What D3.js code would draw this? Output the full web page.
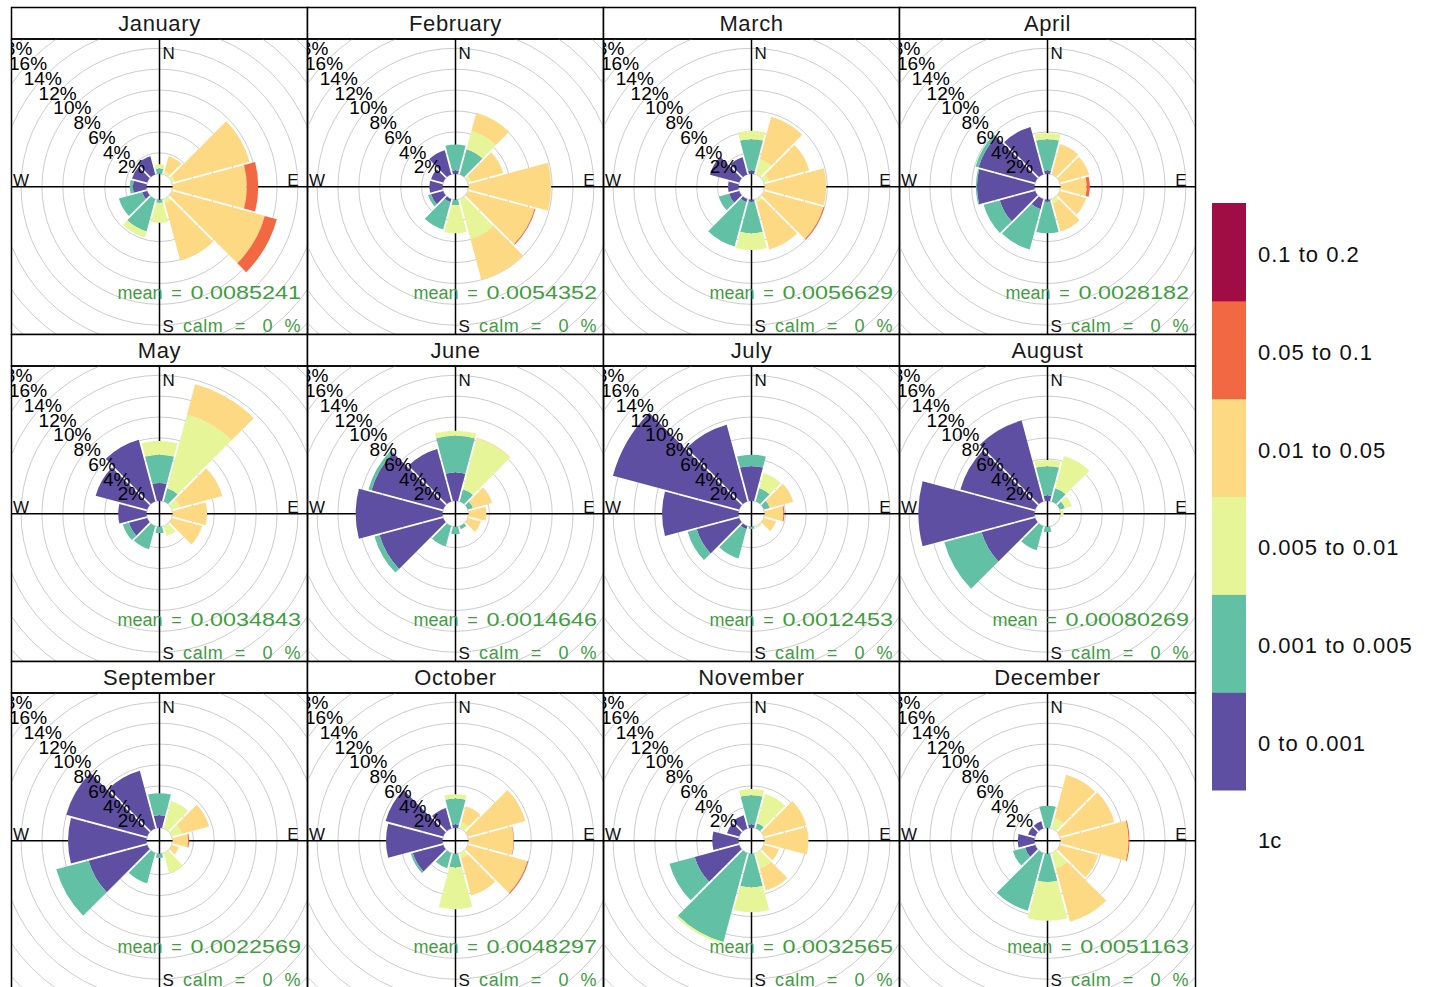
<!DOCTYPE html>
<html>
<head>
<meta charset="utf-8">
<script src="https://cdn.jsdelivr.net/npm/d3@7"></script>
<style>
  body { margin: 0; background: #fff; }
  text { font-family: "Liberation Sans", Arial, sans-serif; }
</style>
</head>
<body>
<div id="chart"></div>
<script>
// wind directions (degrees from north) and concentration intervals
const directions = [0, 30, 60, 90, 120, 150, 180, 210, 240, 270, 300, 330];
const intervals = ["0 to 0.001", "0.001 to 0.005", "0.005 to 0.01", "0.01 to 0.05", "0.05 to 0.1", "0.1 to 0.2"];
const colours = ["#5E4FA2", "#62C0A4", "#E6F598", "#FDD983", "#F26842", "#A00D44"];

const months = ["January", "February", "March", "April", "May", "June",
  "July", "August", "September", "October", "November", "December"];
const means = ["0.0085241", "0.0054352", "0.0056629", "0.0028182", "0.0034843", "0.0014646",
  "0.0012453", "0.00080269", "0.0022569", "0.0048297", "0.0032565", "0.0051163"];
const calms = [0, 0, 0, 0, 0, 0, 0, 0, 0, 0, 0, 0];

// frequency (%) in each interval, lowest first, one row per direction
const january = [
  [0, 0.5, 0.4, 0, 0, 0], [0, 0, 0.3, 1.5, 0, 0], [0, 0, 0.3, 7.4, 0, 0], [0, 0, 0, 7.1, 1.1, 0],
  [0, 0, 0, 9.2, 1.2, 0], [0, 0, 0.4, 5.7, 0, 0], [0, 0.3, 1.9, 0, 0, 0], [0, 3.2, 0.6, 0, 0, 0],
  [0.5, 2.3, 0, 0, 0, 0], [1.3, 0.3, 0, 0, 0, 0], [1.5, 0, 0, 0, 0, 0], [1.8, 0, 0, 0, 0, 0]];
const february = [
  [0.3, 2.5, 0, 0, 0, 0], [0, 2.5, 1.8, 1.8, 0, 0], [0, 0, 0.3, 3.2, 0, 0], [0, 0, 0, 7.9, 0, 0],
  [0, 0, 0, 6.6, 0.1, 0], [0, 0, 4.0, 4.0, 0, 0], [0, 0.5, 2.7, 0, 0, 0], [0.3, 2.7, 0, 0, 0, 0],
  [1.2, 0.3, 0, 0, 0, 0], [1.25, 0, 0, 0, 0, 0], [1.2, 0, 0, 0, 0, 0], [2.4, 0, 0, 0, 0, 0]];
const march = [
  [0.3, 3.0, 0.8, 0, 0, 0], [0, 0, 1.5, 4.2, 0, 0], [0, 0, 0.5, 4.0, 0, 0], [0, 0, 0, 5.9, 0, 0],
  [0, 0, 0, 5.9, 0.1, 0], [0, 0, 0.3, 4.7, 0, 0], [0.2, 3.0, 1.6, 0, 0, 0], [0.3, 4.4, 0, 0, 0, 0],
  [1.0, 1.0, 0, 0, 0, 0], [1.0, 0, 0, 0, 0, 0], [2.9, 0, 0, 0, 0, 0], [1.7, 0, 0, 0, 0, 0]];
const april = [
  [0.3, 3.0, 0.6, 0, 0, 0], [0, 0, 0, 3.0, 0, 0], [0, 0, 0, 2.9, 0, 0], [0, 0, 0, 2.5, 0.3, 0],
  [0, 0, 0, 2.6, 0, 0], [0, 0, 0.4, 2.8, 0, 0], [0.2, 3.0, 0, 0, 0, 0], [1.0, 4.0, 0, 0, 0, 0],
  [3.5, 1.6, 0, 0, 0, 0], [5.5, 0.1, 0, 0, 0, 0], [5.6, 0.3, 0, 0, 0, 0], [4.7, 0, 0, 0, 0, 0]];
const may = [
  [1.7, 2.7, 1.3, 0, 0, 0], [0, 1.3, 7.3, 3.0, 0, 0], [0, 0, 0.8, 4.2, 0, 0], [0, 0, 0, 3.3, 0, 0],
  [0, 0, 0, 3.0, 0, 0], [0, 0, 1.0, 0, 0, 0], [0, 0.6, 0, 0, 0, 0], [0, 2.3, 0, 0, 0, 0],
  [1.8, 0.6, 0, 0, 0, 0], [2.7, 0, 0, 0, 0, 0], [5.1, 0, 0, 0, 0, 0], [6.1, 0, 0, 0, 0, 0]];
const june = [
  [2.7, 3.5, 0.5, 0, 0, 0], [0, 1.2, 5.0, 0.1, 0, 0], [0, 0.5, 0, 1.9, 0, 0], [0, 0, 0, 1.7, 0, 0],
  [0, 0, 0, 1.3, 0, 0], [0, 0.3, 0, 0, 0, 0], [0, 0.7, 0, 0, 0, 0], [0, 2.0, 0, 0, 0, 0],
  [6.3, 0.5, 0, 0, 0, 0], [8.3, 0, 0, 0, 0, 0], [7.1, 0.3, 0, 0, 0, 0], [5.2, 0, 0, 0, 0, 0]];
const july = [
  [3.3, 1.1, 0, 0, 0, 0], [0, 1.3, 1.5, 0, 0, 0], [0, 0.6, 0, 2.3, 0, 0], [0, 0, 0, 1.8, 0.1, 0],
  [0, 0, 0, 1.2, 0, 0], [0, 0, 0.2, 0, 0, 0], [0, 0.2, 0, 0, 0, 0], [0.3, 2.9, 0, 0, 0, 0],
  [4.2, 0.9, 0, 0, 0, 0], [7.3, 0, 0, 0, 0, 0], [12.5, 0, 0, 0, 0, 0], [7.6, 0, 0, 0, 0, 0]];
const august = [
  [0.5, 2.8, 0.6, 0, 0, 0], [0, 1.3, 3.2, 0, 0, 0], [0, 0.5, 0.7, 0, 0, 0], [0, 0, 0.3, 0, 0, 0],
  [0, 0, 0, 0, 0, 0], [0, 0, 0, 0, 0, 0], [0, 0.5, 0, 0, 0, 0], [0, 2.4, 0, 0, 0, 0],
  [5.3, 3.7, 0, 0, 0, 0], [11.1, 0, 0, 0, 0, 0], [7.4, 0, 0, 0, 0, 0], [8.0, 0, 0, 0, 0, 0]];
const september = [
  [1.2, 2.1, 0, 0, 0, 0], [0, 0, 2.7, 0, 0, 0], [0, 0, 1.0, 2.7, 0, 0], [0, 0, 0, 1.5, 0.1, 0],
  [0, 0, 0, 0.7, 0, 0], [0, 0, 2.0, 0, 0, 0], [0, 0.4, 0, 0, 0, 0], [0, 3.0, 0, 0, 0, 0],
  [5.8, 3.2, 0, 0, 0, 0], [7.5, 0, 0, 0, 0, 0], [8.0, 0, 0, 0, 0, 0], [5.7, 0, 0, 0, 0, 0]];
const october = [
  [0.3, 2.5, 0.4, 0, 0, 0], [0, 0, 0.6, 1.6, 0, 0], [0, 0, 0, 5.7, 0, 0], [0, 0, 0, 4.3, 0.05, 0],
  [0, 0, 0, 5.9, 0.1, 0], [0, 0, 0.5, 3.7, 0, 0], [0, 1.3, 4.0, 0, 0, 0], [0, 1.5, 0, 0, 0, 0],
  [3.0, 0.2, 0, 0, 0, 0], [5.4, 0, 0, 0, 0, 0], [5.7, 0, 0, 0, 0, 0], [2.0, 0, 0, 0, 0, 0]];
const november = [
  [0.3, 2.8, 0.6, 0, 0, 0], [0, 0.5, 2.9, 0, 0, 0], [0, 0, 0, 4.2, 0, 0], [0, 0, 0, 4.2, 0, 0],
  [0, 0, 0, 1.5, 0, 0], [0, 0, 1.5, 2.2, 0, 0], [0, 3.2, 2.4, 0, 0, 0], [0, 8.8, 0.2, 0, 0, 0],
  [4.4, 2.5, 0, 0, 0, 0], [2.5, 0, 0, 0, 0, 0], [1.2, 0, 0, 0, 0, 0], [1.3, 0, 0, 0, 0, 0]];
const december = [
  [0, 2.1, 0, 0, 0, 0], [0, 0, 1.0, 4.3, 0, 0], [0, 0, 0, 5.4, 0, 0], [0, 0, 0, 6.5, 0.1, 0],
  [0, 0, 0, 3.8, 0, 0], [0, 0, 1.5, 5.3, 0, 0], [0, 2.7, 3.7, 0, 0, 0], [0, 5.7, 0, 0, 0, 0],
  [1.0, 1.2, 0, 0, 0, 0], [1.6, 0, 0, 0, 0, 0], [0.7, 0, 0, 0, 0, 0], [0.7, 0, 0, 0, 0, 0]];

const monthData = [january, february, march, april, may, june,
  july, august, september, october, november, december];

const gridStep = 2; // % between grid circles

const width = 1430, height = 987;
const panelW = 296, panelH = 295.5, stripH = 31.5;

const svg = d3.select('#chart').append('svg')
  .attr('width', width)
  .attr('height', height);

const colX = d3.scaleLinear().domain([0, 1]).range([11.5, 11.5 + panelW]);
const rowY = d3.scaleLinear().domain([0, 1]).range([7.5, 7.5 + stripH + panelH]);

// openair style: hole in the centre of 10% of the max frequency
const maxFreq = d3.max(monthData, m => d3.max(m, d => d3.sum(d)));
const offSet = maxFreq * 0.1;
const r = d3.scaleLinear()
  .domain([0, 1.03 * (maxFreq + offSet)])
  .range([0, panelW / 2]);

const gridValues = d3.range(0, 2 * maxFreq + 0.001, gridStep);
// only the labels that can show inside a panel
const labelValues = gridValues.filter(d => d > 0 && r(d + offSet) * Math.SQRT1_2 < 150);
const toRad = d => d * Math.PI / 180;
const half = 15; // half sector width in degrees

const arc = d3.arc()
  .padAngle(0.018)
  .padRadius(100);

const defs = svg.append('defs');

monthData.forEach((data, i) => {
  const col = i % 4, row = Math.floor(i / 4);
  const g = svg.append('g')
    .attr('transform', `translate(${colX(col)},${rowY(row)})`);

  // strip
  g.append('rect')
    .attr('width', panelW).attr('height', stripH)
    .attr('fill', '#fff').attr('stroke', '#000').attr('stroke-width', 1.5);
  g.append('text')
    .attr('x', panelW / 2).attr('y', stripH / 2 + 7.5)
    .attr('text-anchor', 'middle')
    .attr('font-size', 22).attr('letter-spacing', 0.6)
    .attr('fill', '#1a1a1a')
    .text(months[i]);

  const pg = g.append('g').attr('transform', `translate(0,${stripH})`);
  defs.append('clipPath').attr('id', 'clip' + i)
    .append('rect').attr('width', panelW).attr('height', panelH);

  const cx = panelW / 2, cy = panelH / 2;
  const plot = pg.append('g').attr('clip-path', `url(#clip${i})`)
    .append('g').attr('transform', `translate(${cx},${cy})`);

  plot.selectAll('circle.grid').data(gridValues).enter()
    .append('circle').classed('grid', true)
    .attr('r', d => r(d + offSet))
    .attr('fill', 'none')
    .attr('stroke', '#cccccc')
    .attr('stroke-width', 1);

  plot.append('line')
    .attr('x1', -cx).attr('x2', cx).attr('y1', 0).attr('y2', 0)
    .attr('stroke', '#000').attr('stroke-width', 1.5);
  plot.append('line')
    .attr('x1', 0).attr('x2', 0).attr('y1', -cy).attr('y2', cy)
    .attr('stroke', '#000').attr('stroke-width', 1.5);

  // stacked sectors
  const segs = [];
  data.forEach((vals, j) => {
    let cum = 0;
    vals.forEach((v, k) => {
      if (v > 0) {
        segs.push({ dir: directions[j], from: cum, to: cum + v, k: k });
      }
      cum += v;
    });
  });

  plot.selectAll('path.seg').data(segs).enter()
    .append('path').classed('seg', true)
    .attr('d', d => arc({
      innerRadius: r(d.from + offSet),
      outerRadius: r(d.to + offSet),
      startAngle: toRad(d.dir - half),
      endAngle: toRad(d.dir + half)
    }))
    .attr('fill', d => colours[d.k]);

  // ring labels along the NW diagonal
  plot.selectAll('text.ring').data(labelValues).enter()
    .append('text').classed('ring', true)
    .attr('x', d => -r(d + offSet) * Math.SQRT1_2 - 4)
    .attr('y', d => -r(d + offSet) * Math.SQRT1_2 + 4)
    .attr('text-anchor', 'middle')
    .attr('dy', '0.35em')
    .attr('font-size', 19)
    .attr('fill', '#000')
    .text(d => d + '%');

  const lab = (txt, x, y, anchor) => plot.append('text')
    .attr('x', x).attr('y', y)
    .attr('text-anchor', anchor)
    .attr('font-size', 17)
    .attr('fill', '#111')
    .text(txt);
  lab('N', 3, -127.5, 'start');
  lab('S', 3, 145.5, 'start');
  lab('E', 139, -1, 'end');
  lab('W', -146.5, -1, 'start');

  const green = '#3f9d3f';
  const gt = (txt, x, y, anchor) => plot.append('text')
    .attr('x', x).attr('y', y)
    .attr('text-anchor', anchor)
    .attr('font-size', 18)
    .attr('fill', green)
    .text(txt);

  // number is drawn a little wider, as in the R device output
  const stretch = 1.3;
  const num = plot.append('text')
    .attr('transform', `translate(141.5,112.5) scale(${stretch},1)`)
    .attr('text-anchor', 'end')
    .attr('font-size', 18)
    .attr('fill', green)
    .text(means[i]);
  const numStart = 141.5 - num.node().getComputedTextLength() * stretch;
  gt('=', numStart - 14, 112.5, 'middle');
  gt('mean', numStart - 28, 112.5, 'end');

  gt(`calm  =   ${calms[i]}  %`, 141.5, 145, 'end')
    .style('white-space', 'pre')
    .attr('letter-spacing', 0.6);

  pg.append('rect')
    .attr('width', panelW).attr('height', panelH)
    .attr('fill', 'none').attr('stroke', '#000').attr('stroke-width', 1.5);
});

// colour key
const keyX = 1212, keyW = 34;
const keyY = d3.scaleBand()
  .domain(intervals.slice().reverse())
  .range([203, 790]);

const key = svg.append('g');
key.selectAll('rect').data(intervals).enter()
  .append('rect')
  .attr('x', keyX).attr('width', keyW)
  .attr('y', d => keyY(d))
  .attr('height', keyY.bandwidth() + 0.5)
  .attr('fill', (d, k) => colours[k]);
key.selectAll('text').data(intervals).enter()
  .append('text')
  .attr('x', 1258)
  .attr('y', d => keyY(d) + keyY.bandwidth() / 2 + 10)
  .attr('font-size', 22)
  .attr('letter-spacing', 1)
  .attr('fill', '#111')
  .text(d => d);
svg.append('text')
  .attr('x', 1258).attr('y', 848)
  .attr('font-size', 22)
  .attr('fill', '#111')
  .text('1c');
</script>
</body>
</html>
